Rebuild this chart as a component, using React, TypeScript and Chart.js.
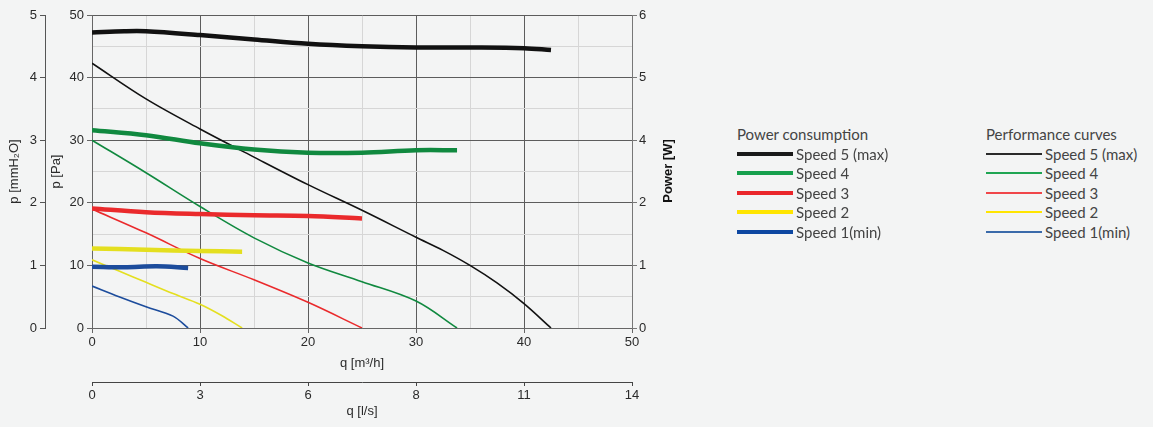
import React, { useEffect, useRef } from "react";
import { Chart, registerables } from "chart.js";

Chart.register(...registerables);

// ---- data (q in m³/h, p in Pa; power curves plotted on the Pa grid, read against the right "Power [W]" scale) ----
const qLsTickLabels = ["0", "3", "6", "8", "11", "14"];
const powerTickLabels = ["0", "1", "2", "4", "5", "6"];

const power5Q = [0, 3, 5, 10, 15, 20, 25, 30, 35, 40, 42.5];
const power5P = [47.2, 47.4, 47.4, 46.8, 46.1, 45.4, 45.0, 44.8, 44.8, 44.7, 44.4];
const power4Q = [0, 5, 10, 15, 20, 25, 30, 33.8];
const power4P = [31.6, 30.8, 29.5, 28.5, 28.0, 28.0, 28.4, 28.4];
const power3Q = [0, 5, 10, 15, 20, 25];
const power3P = [19.1, 18.5, 18.2, 18.0, 17.9, 17.5];
const power2Q = [0, 5, 10, 13.9];
const power2P = [12.7, 12.5, 12.3, 12.2];
const power1Q = [0, 3, 6, 8.9];
const power1P = [9.8, 9.7, 9.85, 9.6];

const perf5Q = [0, 5, 10, 15, 20, 25, 30, 32.5, 35, 37.5, 40, 42.5];
const perf5P = [42.3, 36.6, 31.8, 27.3, 22.9, 18.8, 14.5, 12.4, 10.0, 7.2, 3.9, 0];
const perf4Q = [0, 5, 10, 15, 20, 25, 30, 33.8];
const perf4P = [30.0, 24.8, 19.4, 14.4, 10.4, 7.4, 4.3, 0];
const perf3Q = [0, 5, 10, 15, 20, 25];
const perf3P = [19.0, 15.2, 11.1, 7.7, 4.1, 0];
const perf2Q = [0, 2.5, 5, 7.5, 10, 12, 13.9];
const perf2P = [10.9, 9.1, 7.3, 5.5, 3.8, 2.0, 0];
const perf1Q = [0, 2.5, 5, 7.5, 8.9];
const perf1P = [6.7, 5.0, 3.4, 1.9, 0];

const speedLabels = ["Speed 5 (max)", "Speed 4", "Speed 3", "Speed 2", "Speed 1(min)"];
const speedColors = ["#111111", "#10893f", "#ea2a2c", "#e4df1f", "#1c4c9c"];
const legendColors = ["#1a1a1a", "#17a04d", "#ea262b", "#ffe500", "#0d47a1"];
const perfLegendColors = ["#2a2a2a", "#1fa552", "#f0464a", "#ffe500", "#3a6aaa"];

const zip = (q: number[], p: number[]) => q.map((v, i) => ({ x: v, y: p[i] }));

const AXIS_FONT = "'Liberation Sans Narrow', 'Liberation Sans', Arial, sans-serif";
const LEGEND_FONT = "Lato, 'Open Sans', sans-serif";

export default function App() {
  const canvasRef = useRef<HTMLCanvasElement | null>(null);

  useEffect(() => {
    if (!canvasRef.current) return;
    const powerSets = [
      [power5Q, power5P],
      [power4Q, power4P],
      [power3Q, power3P],
      [power2Q, power2P],
      [power1Q, power1P],
    ];
    const perfSets = [
      [perf5Q, perf5P],
      [perf4Q, perf4P],
      [perf3Q, perf3P],
      [perf2Q, perf2P],
      [perf1Q, perf1P],
    ];
    const datasets: any[] = [];
    powerSets.forEach(([q, p], i) => {
      datasets.push({
        label: "Power " + speedLabels[i],
        data: zip(q, p),
        borderColor: speedColors[i],
        borderWidth: 4.5,
        pointRadius: 0,
        tension: 0.35,
        xAxisID: "x",
        yAxisID: "y",
        borderCapStyle: "butt",
      });
    });
    perfSets.forEach(([q, p], i) => {
      datasets.push({
        label: "Performance " + speedLabels[i],
        data: zip(q, p),
        borderColor: speedColors[i],
        borderWidth: 1.6,
        pointRadius: 0,
        tension: 0.35,
        xAxisID: "x",
        yAxisID: "y",
      });
    });

    const majorGrid = "#5c5c5c";
    const minorGrid = "#d6d6d6";
    const tickFont = { family: AXIS_FONT, size: 13 };

    const chart = new Chart(canvasRef.current, {
      type: "line",
      data: { datasets },
      options: {
        animation: false,
        responsive: false,
        maintainAspectRatio: false,
        layout: { padding: { top: 15, left: 0, right: 0, bottom: 0 } },
        plugins: { legend: { display: false }, tooltip: { enabled: false } },
        scales: {
          x: {
            type: "linear",
            position: "bottom",
            min: 0,
            max: 50,
            ticks: {
              stepSize: 5,
              autoSkip: false,
              maxRotation: 0,
              color: "#2a2a2a",
              font: tickFont,
              padding: 2,
              callback: (v: any) => (Number(v) % 10 === 0 ? String(v) : ""),
            },
            grid: {
              color: (c: any) => (c.tick && c.tick.value % 10 === 0 ? majorGrid : minorGrid),
              tickColor: (c: any) => (c.tick && c.tick.value % 10 === 0 ? "#666" : "rgba(0,0,0,0)"),
              tickLength: 5,
            },
            border: { color: "#666" },
            title: {
              display: true,
              text: "q [m³/h]",
              color: "#2a2a2a",
              font: tickFont,
              padding: { top: 0, bottom: 11 },
            },
            afterFit: (s: any) => {
              s.height = 54;
            },
          },
          x2: {
            type: "linear",
            position: "bottom",
            min: 0,
            max: 50,
            ticks: {
              stepSize: 10,
              autoSkip: false,
              maxRotation: 0,
              color: "#2a2a2a",
              font: tickFont,
              padding: 2,
              callback: (_v: any, i: number) => qLsTickLabels[i],
            },
            grid: { drawOnChartArea: false, tickLength: 4, color: "#444" },
            border: { color: "#444" },
            title: {
              display: true,
              text: "q [l/s]",
              color: "#2a2a2a",
              font: tickFont,
              padding: { top: 0, bottom: 8 },
            },
            afterFit: (s: any) => {
              s.height = 45;
            },
          },
          y: {
            type: "linear",
            position: "left",
            min: 0,
            max: 50,
            ticks: {
              stepSize: 5,
              autoSkip: false,
              color: "#2a2a2a",
              font: tickFont,
              padding: 3,
              callback: (v: any) => (Number(v) % 10 === 0 ? String(v) : ""),
            },
            grid: {
              color: (c: any) => (c.tick && c.tick.value % 10 === 0 ? majorGrid : minorGrid),
              tickColor: (c: any) => (c.tick && c.tick.value % 10 === 0 ? "#666" : "rgba(0,0,0,0)"),
              tickLength: 5,
            },
            border: { color: "#666" },
            title: {
              display: true,
              text: "p [Pa]",
              color: "#2a2a2a",
              font: tickFont,
              padding: { top: 4, bottom: 0 },
            },
            afterFit: (s: any) => {
              s.width = 47;
            },
          },
          yMm: {
            type: "linear",
            position: "left",
            min: 0,
            max: 5,
            ticks: {
              stepSize: 1,
              color: "#2a2a2a",
              font: tickFont,
              padding: 3,
            },
            grid: { drawOnChartArea: false, tickLength: 5, color: "#555" },
            border: { color: "#555" },
            title: {
              display: true,
              text: "p [mmH₂O]",
              color: "#2a2a2a",
              font: tickFont,
              padding: { top: 7, bottom: 0 },
            },
            afterFit: (s: any) => {
              s.width = 45;
            },
          },
          yPow: {
            type: "linear",
            position: "right",
            min: 0,
            max: 50,
            ticks: {
              stepSize: 10,
              color: "#2a2a2a",
              font: tickFont,
              padding: 2,
              callback: (_v: any, i: number) => powerTickLabels[i],
            },
            grid: { drawOnChartArea: false, tickLength: 5, color: "#777" },
            border: { color: "#777" },
            title: { display: false },
            afterFit: (s: any) => {
              s.width = 68;
            },
          },
        },
      } as any,
    });
    return () => chart.destroy();
  }, []);

  const rowTops = [154, 173, 193, 212, 232];

  return (
    <div
      style={{
        position: "fixed",
        left: 0,
        top: 0,
        width: 1153,
        height: 427,
        background: "#f3f4f4",
        overflow: "hidden",
      }}
    >
      <canvas
        ref={canvasRef}
        width={700}
        height={427}
        style={{ position: "absolute", left: 0, top: 0, width: 700, height: 427 }}
      />
      <div
        style={{
          position: "absolute",
          left: 628,
          top: 163,
          width: 80,
          height: 16,
          lineHeight: "16px",
          textAlign: "center",
          transform: "rotate(-90deg)",
          font: "bold 13px 'Liberation Sans', Arial, sans-serif",
          color: "#111",
        }}
      >
        Power [W]
      </div>
      {[
        { left: 737, title: "Power consumption", colors: legendColors, thick: 4 },
        { left: 986, title: "Performance curves", colors: perfLegendColors, thick: 2 },
      ].map((col) => (
        <React.Fragment key={col.title}>
          <div
            style={{
              position: "absolute",
              left: col.left,
              top: 125,
              height: 18,
              lineHeight: "18px",
              font: `15px ${LEGEND_FONT}`,
              color: "#444",
              whiteSpace: "nowrap",
            }}
          >
            {col.title}
          </div>
          {speedLabels.map((lab, i) => (
            <div
              key={lab}
              style={{
                position: "absolute",
                left: col.left,
                top: rowTops[i] - 9,
                height: 18,
                display: "flex",
                alignItems: "center",
                whiteSpace: "nowrap",
              }}
            >
              <div style={{ width: 56, height: col.thick, background: col.colors[i], flex: "none" }} />
              <span
                style={{
                  marginLeft: 3,
                  font: `15px ${LEGEND_FONT}`,
                  color: "#444",
                  lineHeight: "18px",
                }}
              >
                {lab}
              </span>
            </div>
          ))}
        </React.Fragment>
      ))}
    </div>
  );
}
